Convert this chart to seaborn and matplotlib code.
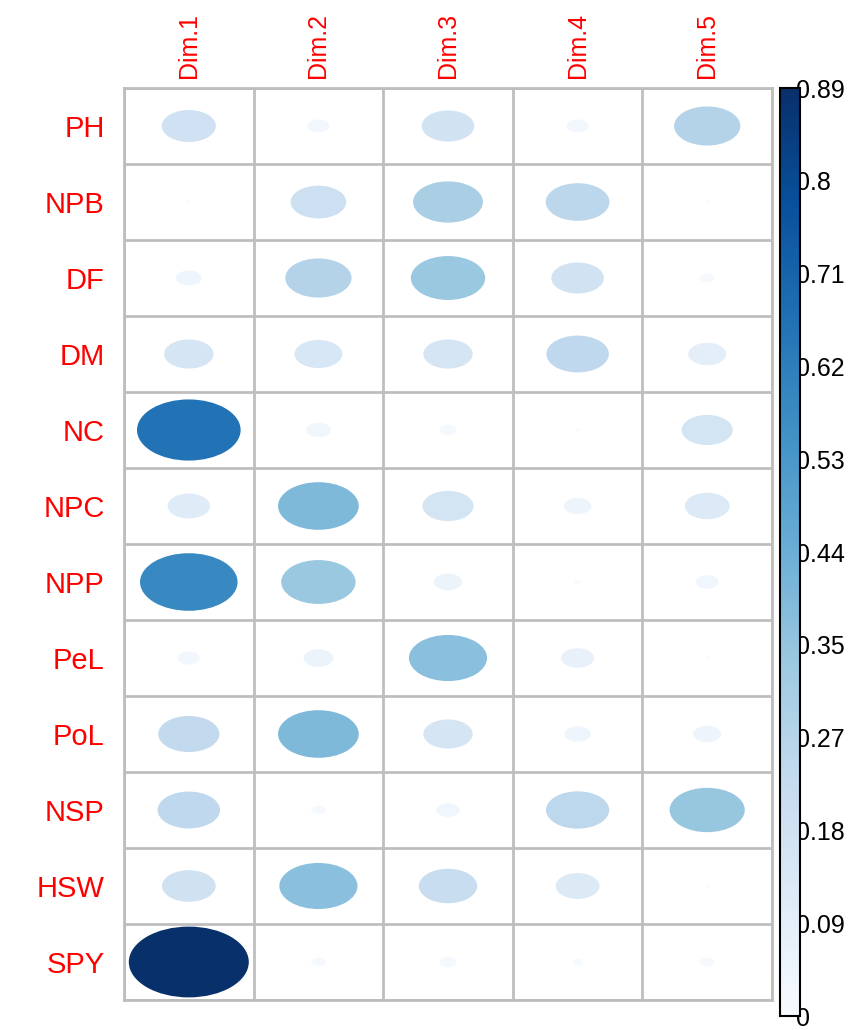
import numpy as np
import pandas as pd
import matplotlib
matplotlib.use("Agg")
import matplotlib.pyplot as plt
from matplotlib.path import Path
from matplotlib.transforms import Affine2D
from matplotlib.cm import ScalarMappable
from matplotlib.colors import Normalize
import seaborn as sns

rows = ["PH", "NPB", "DF", "DM", "NC", "NPC", "NPP", "PeL", "PoL", "NSP", "HSW", "SPY"]
dims = ["Dim.1", "Dim.2", "Dim.3", "Dim.4", "Dim.5"]
dim1 = [0.18, 0.001, 0.04, 0.15, 0.66, 0.11, 0.585, 0.03, 0.23, 0.24, 0.177, 0.885]
dim2 = [0.03, 0.19, 0.27, 0.14, 0.037, 0.40, 0.34, 0.054, 0.40, 0.013, 0.375, 0.013]
dim3 = [0.17, 0.30, 0.34, 0.15, 0.018, 0.16, 0.05, 0.375, 0.15, 0.033, 0.21, 0.018]
dim4 = [0.03, 0.25, 0.17, 0.24, 0.002, 0.046, 0.003, 0.067, 0.043, 0.246, 0.118, 0.007]
dim5 = [0.27, 0.001, 0.013, 0.089, 0.16, 0.123, 0.032, 0.001, 0.048, 0.347, 0.001, 0.013]
cbar_ticklabels = ["0", "0.09", "0.18", "0.27", "0.35", "0.44", "0.53", "0.62", "0.71", "0.8", "0.89"]
vmax = 0.885

cols = [dim1, dim2, dim3, dim4, dim5]
records = []
for j, (d, vals) in enumerate(zip(dims, cols)):
    for i, (r, v) in enumerate(zip(rows, vals)):
        records.append({"col": j, "row": i, "dim": d, "var": r, "value": v})
df = pd.DataFrame(records)

sns.set_style("white")
plt.rcParams["font.family"] = ["Liberation Sans", "DejaVu Sans"]

W, H = 860, 1030
fig = plt.figure(figsize=(W / 100, H / 100), dpi=100)
ax = fig.add_axes([124 / W, 30 / H, 648 / W, 912 / H])

ellipse = Path.unit_circle().transformed(Affine2D().scale(1.0, 0.59))
smax = (120 * 0.72) ** 2

sns.scatterplot(data=df, x="col", y="row", hue="value", size="value",
                palette="Blues", hue_norm=(0, vmax),
                sizes=(0, smax), size_norm=(0, vmax),
                marker=ellipse, linewidth=0, legend=False, ax=ax, zorder=3)

ax.set_xlim(-0.5, len(dims) - 0.5)
ax.set_ylim(len(rows) - 0.5, -0.5)
ax.set_xlabel("")
ax.set_ylabel("")
ax.set_xticks(range(len(dims)))
ax.set_xticklabels(dims, rotation=90, color="red", fontsize=18)
ax.set_yticks(range(len(rows)))
ax.set_yticklabels(rows, color="red", fontsize=21)
ax.xaxis.tick_top()
ax.tick_params(axis="x", length=0, pad=7)
ax.tick_params(axis="y", length=0, pad=14)
ax.set_xticks(np.arange(-0.5, len(dims), 1), minor=True)
ax.set_yticks(np.arange(-0.5, len(rows), 1), minor=True)
ax.tick_params(which="minor", length=0)
ax.grid(which="minor", color="#BEBEBE", linewidth=2)
ax.grid(which="major", visible=False)
for s in ax.spines.values():
    s.set_color("#BEBEBE")
    s.set_linewidth(2)

cax = fig.add_axes([780 / W, 14 / H, 20 / W, 928 / H])
sm = ScalarMappable(norm=Normalize(0, vmax), cmap="Blues")
cb = fig.colorbar(sm, cax=cax)
cb.set_ticks(np.linspace(0, vmax, len(cbar_ticklabels)))
cb.set_ticklabels(cbar_ticklabels)
cb.outline.set_edgecolor("black")
cb.outline.set_linewidth(1.5)
cax.tick_params(length=0, pad=-3, labelsize=18, labelcolor="black")

fig.savefig("out.png", dpi=100)
